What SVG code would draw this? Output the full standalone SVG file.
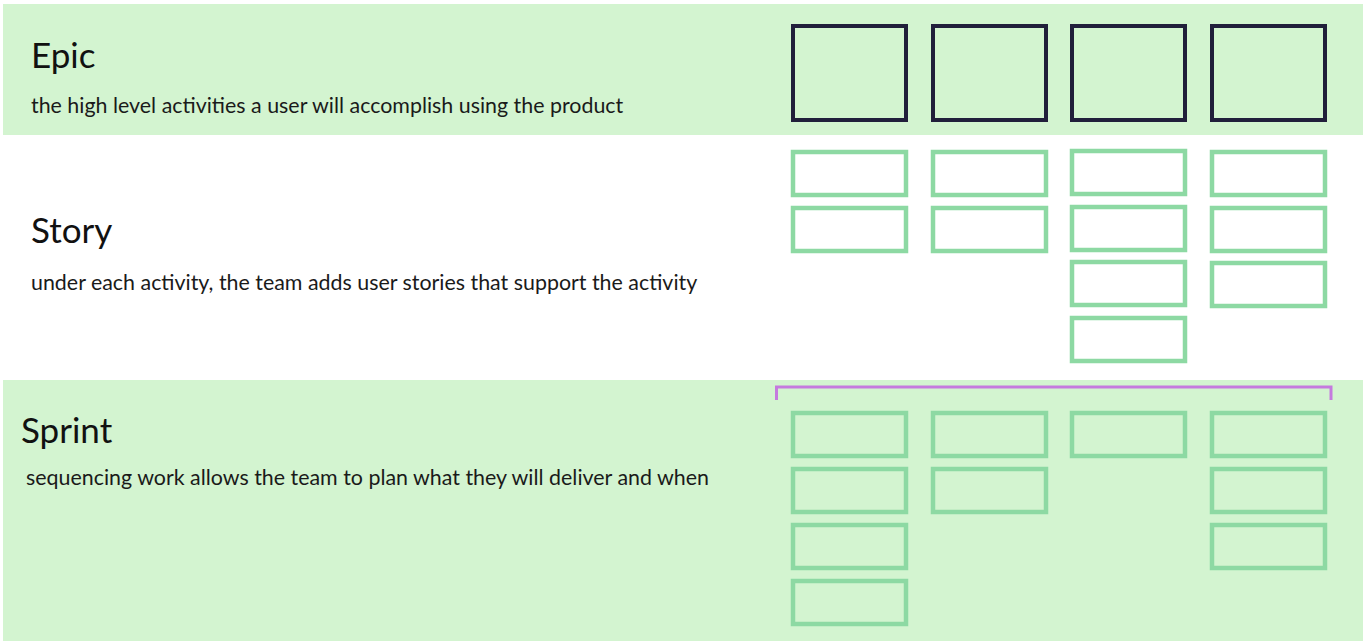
<svg xmlns="http://www.w3.org/2000/svg" width="1366" height="644" viewBox="0 0 1366 644">
<style>
.band{fill:#d3f4d0}
.title{font-family:Lato,"Noto Sans",sans-serif;font-size:35px;fill:#111}
.desc{font-family:Lato,"Noto Sans",sans-serif;font-size:21.4px;fill:#1a1a1a}
.epic{fill:none;stroke:#211f3b;stroke-width:4}
.card{fill:none;stroke:#8dd9a3;stroke-width:4.5}
.bracket{fill:none;stroke:#c57ade;stroke-width:3}
</style>
<rect width="1366" height="644" fill="#ffffff"/>
<g id="epic-band">
<rect class="band" x="3" y="4" width="1360" height="131"/>
<text class="title" x="31" y="68">Epic</text>
<text class="desc" x="31" y="113">the high level activities a user will accomplish using the product</text>
</g>
<g id="story-band">
<text class="title" x="31" y="243">Story</text>
<text class="desc" x="31" y="290">under each activity, the team adds user stories that support the activity</text>
</g>
<g id="sprint-band">
<rect class="band" x="3" y="380" width="1360" height="261"/>
<text class="title" x="21" y="443">Sprint</text>
<text class="desc" x="26" y="485">sequencing work allows the team to plan what they will deliver and when</text>
</g>
<g id="epics">
<rect id="epic-1" class="epic" x="793" y="26" width="113" height="94"/>
<rect id="epic-2" class="epic" x="933" y="26" width="113" height="94"/>
<rect id="epic-3" class="epic" x="1072" y="26" width="113" height="94"/>
<rect id="epic-4" class="epic" x="1212" y="26" width="113" height="94"/>
</g>
<g id="stories">
<rect id="story-1-1" class="card" x="793" y="152" width="113" height="43"/>
<rect id="story-1-2" class="card" x="793" y="208" width="113" height="43"/>
<rect id="story-2-1" class="card" x="933" y="152" width="113" height="43"/>
<rect id="story-2-2" class="card" x="933" y="208" width="113" height="43"/>
<rect id="story-3-1" class="card" x="1072" y="151" width="113" height="43"/>
<rect id="story-3-2" class="card" x="1072" y="207" width="113" height="43"/>
<rect id="story-3-3" class="card" x="1072" y="262" width="113" height="43"/>
<rect id="story-3-4" class="card" x="1072" y="318" width="113" height="43"/>
<rect id="story-4-1" class="card" x="1212" y="152" width="113" height="43"/>
<rect id="story-4-2" class="card" x="1212" y="208" width="113" height="43"/>
<rect id="story-4-3" class="card" x="1212" y="263" width="113" height="43"/>
</g>
<g id="sprint-cards">
<rect id="sprint-1-1" class="card" x="793" y="413" width="113" height="43"/>
<rect id="sprint-1-2" class="card" x="793" y="469" width="113" height="43"/>
<rect id="sprint-1-3" class="card" x="793" y="525" width="113" height="43"/>
<rect id="sprint-1-4" class="card" x="793" y="581" width="113" height="43"/>
<rect id="sprint-2-1" class="card" x="933" y="413" width="113" height="43"/>
<rect id="sprint-2-2" class="card" x="933" y="469" width="113" height="43"/>
<rect id="sprint-3-1" class="card" x="1072" y="413" width="113" height="43"/>
<rect id="sprint-4-1" class="card" x="1212" y="413" width="113" height="43"/>
<rect id="sprint-4-2" class="card" x="1212" y="469" width="113" height="43"/>
<rect id="sprint-4-3" class="card" x="1212" y="525" width="113" height="43"/>
</g>
<g id="connectors">
<path id="sprint-bracket" class="bracket" d="M776.5,400 V387 H1331 V400"/>
</g>
</svg>
